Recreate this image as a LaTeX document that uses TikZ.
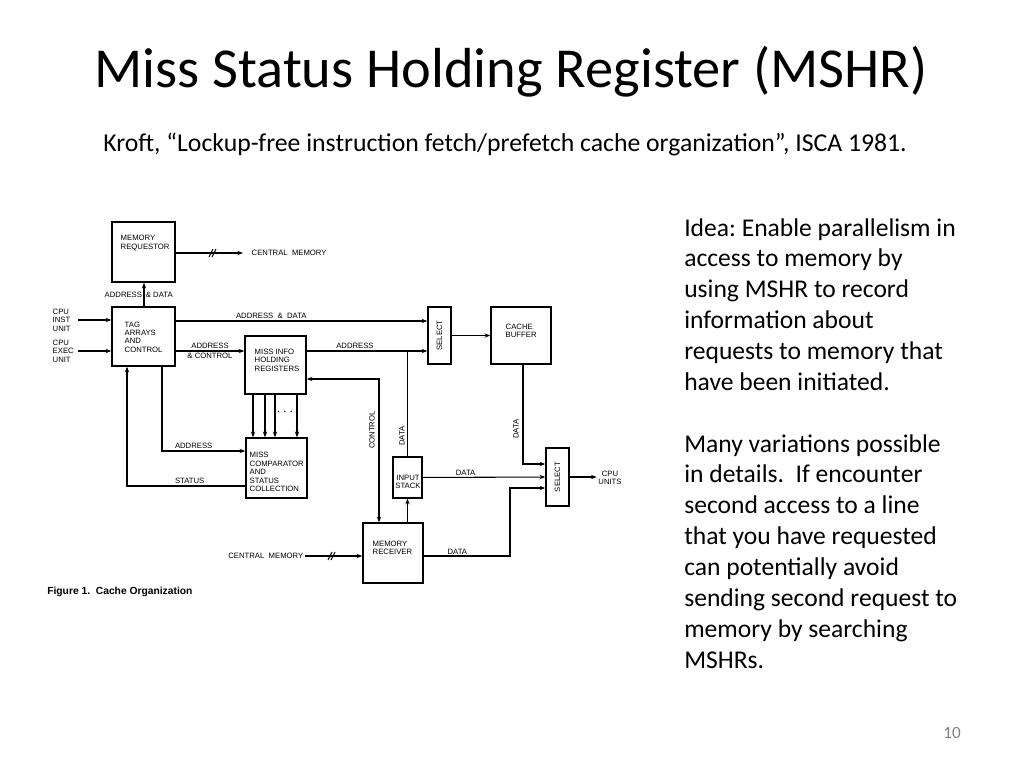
\documentclass[tikz,border=0pt]{standalone}
\usepackage{fontspec}
\setmainfont{Carlito}
\newfontfamily\figfont{Liberation Sans}
\usetikzlibrary{positioning, arrows.meta, calc, fit}
\frenchspacing

\begin{document}
\begin{tikzpicture}[
            x=0.7pt, y=-0.7pt,
            box/.style={draw=black, line width=1pt, inner sep=0pt},
            lbl/.style={font=\figfont\fontsize{5.4}{5.9}\selectfont, inner sep=1pt, align=left},
            link/.style={line width=0.75pt, -{Stealth[length=4pt, width=3pt]}},
            linkb/.style={line width=0.75pt, {Stealth[length=4pt, width=3pt]}-{Stealth[length=4pt, width=3pt]}},
            wire/.style={line width=0.75pt},
            slash/.style={line width=0.75pt}
        ]
        \useasboundingbox (0,0) rectangle (1024,768);

        % slide text
        \node[font=\fontsize{39.5}{44}\selectfont, anchor=base] (title) at (511,87) {Miss Status Holding Register (MSHR)};
        \node[font=\fontsize{18}{21}\selectfont, anchor=base west, inner sep=0] (ref) at (103,151) {Kroft, “Lockup-free instruction fetch/prefetch cache organization”, ISCA 1981.};
        \node[font=\fontsize{17.9}{21.6}\selectfont, align=left, anchor=north west, inner sep=0] (idea) at (684,218) {Idea: Enable parallelism in\\access to memory by\\using MSHR to record\\information about\\requests to memory that\\have been initiated.\\[21.6pt]Many variations possible\\in details.\ \ If encounter\\second access to a line\\that you have requested\\can potentially avoid\\sending second request to\\memory by searching\\MSHRs.};
        \node[font=\fontsize{12}{14}\selectfont, text=gray, anchor=base east, inner sep=0] (pnum) at (961,738) {10};

        % blocks
        \node[box, fit={(112,222) (175,282)}] (mreq) {};
        \node[box, fit={(112,307) (175,366)}] (tag) {};
        \node[box, fit={(245,336) (306,394)}] (mihr) {};
        \node[box, fit={(246,438) (307,498)}] (mcomp) {};
        \node[box, fit={(428,307) (451,364)}] (sel1) {};
        \node[box, fit={(491,307) (551,364)}] (cache) {};
        \node[box, fit={(393,457) (422,498)}] (istack) {};
        \node[box, fit={(363,523) (423,583)}] (mrecv) {};
        \node[box, fit={(546,448) (569,506)}] (sel2) {};

        % block texts
        \node[lbl, anchor=west] (mreqT) at (119,243) {MEMORY\\REQUESTOR};
        \node[lbl, anchor=west] (tagT) at (123,337) {TAG\\ARRAYS\\AND\\CONTROL};
        \node[lbl, anchor=west] (mihrT) at (253,360) {MISS INFO\\HOLDING\\REGISTERS};
        \node[lbl, anchor=west] (mcompT) at (248,472) {MISS\\COMPARATOR\\AND\\STATUS\\COLLECTION};
        \node[lbl, rotate=90] (sel1T) at (sel1) {SELECT};
        \node[lbl, anchor=west] (cacheT) at (504,331) {CACHE\\BUFFER};
        \node[lbl, align=center] (istackT) at (408,482) {INPUT\\STACK};
        \node[lbl, anchor=west] (mrecvT) at (371,548) {MEMORY\\RECEIVER};
        \node[lbl, rotate=90] (sel2T) at (sel2) {SELECT};

        % outer labels
        \node[lbl, anchor=west] (cmTop) at (250,253) {CENTRAL\ \ MEMORY};
        \node[lbl, anchor=east] (cmBot) at (305,556) {CENTRAL\ \ MEMORY};
        \node[lbl, anchor=west] (cpuInst) at (51,320) {CPU\\INST\\UNIT};
        \node[lbl, anchor=west] (cpuExec) at (51,351) {CPU\\EXEC\\UNIT};
        \node[lbl, align=center] (cpuUnits) at (610,478) {CPU\\UNITS};
        \node[lbl, rotate=90] (ctl) at (372,430) {CONTROL};
        \node[lbl, rotate=90] (datIs) at (402,436) {DATA};
        \node[lbl, rotate=90] (datCb) at (516,429) {DATA};
        \node (dots) at (285,412) {$\cdots$};
        \node[font=\figfont\bfseries\fontsize{7.2}{8}\selectfont, anchor=base west, inner sep=0] (cap) at (47,594) {Figure 1.\ \ Cache Organization};

        % connections
        \coordinate (cut1) at (213,253);
        \coordinate (cut2) at (331,556);
        \draw[link] (mreq.east |- cmTop) -- ($(cmTop.west)+(-7,0)$);
        \draw[slash] (cut1) ++(-4,4) -- ++(4,-8);
        \draw[slash] (cut1) ++(-1,4) -- ++(4,-8);
        \draw[link] (tag.north -| 144,0) -- (mreq.south -| 144,0)
            node[lbl, midway, left] (adrUp) {ADDRESS} node[lbl, midway, right] (datUp) {\& DATA};
        \draw[link] (cpuInst.east -| 78,0) -- (tag.west |- cpuInst.east);
        \draw[link] (cpuExec.east -| 78,0) -- (tag.west |- cpuExec.east);
        \draw[link] (tag.east |- 0,321) -- (sel1.west |- 0,321)
            node[lbl, pos=0.38, above] (adLong) {ADDRESS\ \ \&\ \ DATA};
        \draw[link] (tag.east |- 0,351) -- (mihr.west |- 0,351)
            node[lbl, midway, above] (adCtl1) {ADDRESS} node[lbl, midway, below] (adCtl2) {\& CONTROL};
        \draw[link] (mihr.east |- 0,351) -- (sel1.west |- 0,351)
            node[lbl, pos=0.4, above] (adSel) {ADDRESS};
        \draw[link] (sel1) -- (cache);
        \draw[wire] (istack.north) -- (istack.north |- 0,351);
        \draw[linkb] (mihr.east |- 0,379) -| (mrecv.north -| 379,0);
        \draw[link] (cache.south -| 523,0) |- (sel2.west |- 0,464);
        \draw[link] (istack) -- (sel2) node[lbl, pos=0.35, above] (datSt) {DATA};
        \draw[link] (mrecv.east |- 0,556) -- (510,556)
            node[lbl, pos=0.39, above] (datRv) {DATA} -- (510,488) -- (sel2.west |- 0,488);
        \draw[link] (mrecv.north -| istack) -- (istack.south);
        \draw[link] (sel2) -- (cpuUnits.west |- sel2);
        \draw[link] (cmBot.east) -- (mrecv.west |- cmBot.east);
        \draw[slash] (cut2) ++(-3,4) -- ++(4,-8);
        \draw[slash] (cut2) ++(0,4) -- ++(4,-8);

        % registers to comparator
        \draw[link] (mihr.south -| 253,0) -- (mcomp.north -| 253,0);
        \draw[link] (mihr.south -| 265,0) -- (mcomp.north -| 265,0);
        \draw[link] (mihr.south -| 275,0) -- (mcomp.north -| 275,0);
        \draw[link] (mihr.south -| 297,0) -- (mcomp.north -| 297,0);
        \draw[link] (tag.south -| 162,0) |- (mcomp.west |- 0,451)
            node[lbl, pos=0.69, above] (adCmp) {ADDRESS};
        \draw[link] (mcomp.west |- 0,486) -| (tag.south -| 127,0)
            node[lbl, pos=0.235, above] (stat) {STATUS};

    \end{tikzpicture}
\end{document}
